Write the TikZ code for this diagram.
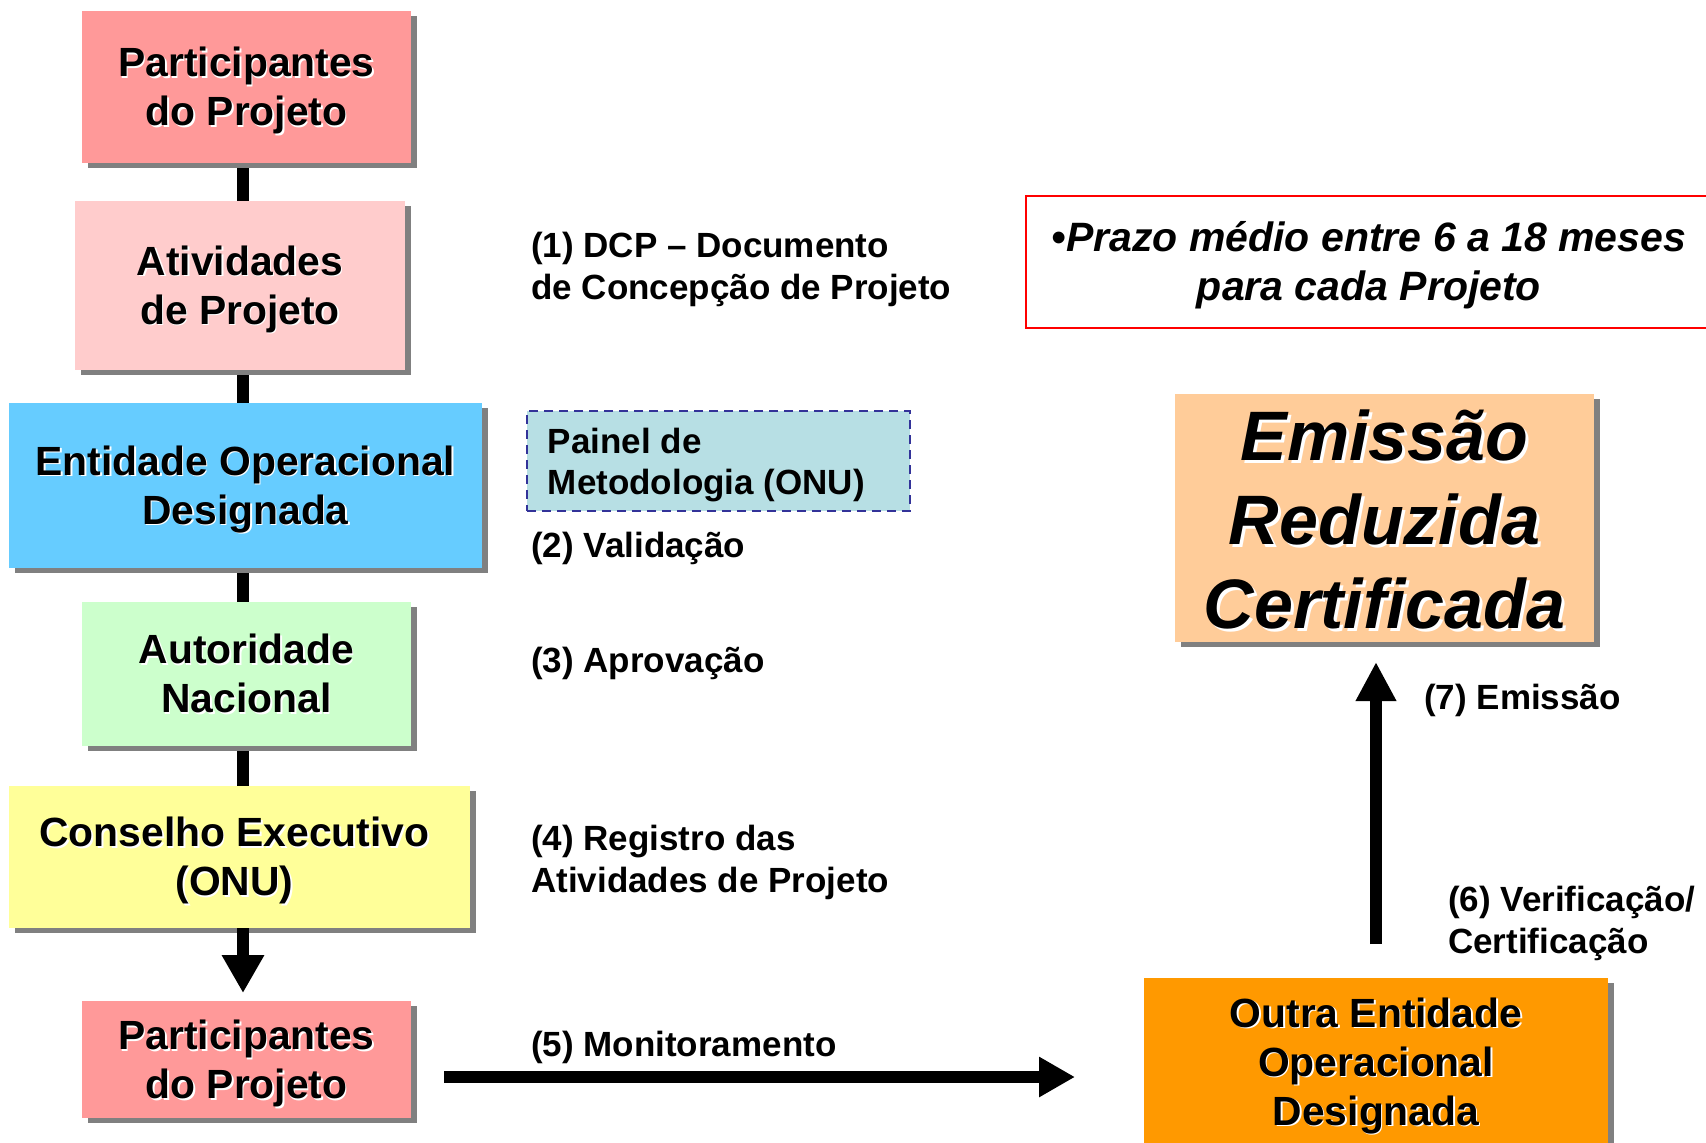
\documentclass[tikz,border=0pt]{standalone}
\usepackage{fontspec}
\setmainfont{Liberation Sans}
\usetikzlibrary{arrows.meta,shadows,backgrounds}
\definecolor{pinkA}{HTML}{FF9999}
\definecolor{pinkB}{HTML}{FFCCCC}
\definecolor{skyA}{HTML}{66CCFF}
\definecolor{greenA}{HTML}{CCFFCC}
\definecolor{yellowA}{HTML}{FFFF99}
\definecolor{peachA}{HTML}{FFCC99}
\definecolor{orangeA}{HTML}{FF9900}
\definecolor{panelA}{HTML}{B7DFE4}
\definecolor{navyA}{HTML}{333399}
\definecolor{shadowgray}{HTML}{808080}
\newcommand\wsh[2][1.5pt]{\leavevmode\rlap{\kern#1\raisebox{-#1}{\textcolor{white}{#2}}}#2}
\begin{document}
\begin{tikzpicture}[x=1pt,y=-1pt,
  box/.style={draw=none, outer sep=0pt, inner sep=0pt,
    drop shadow={shadow xshift=6pt, shadow yshift=-5pt, fill=shadowgray, opacity=1}},
  btxt/.style={inner sep=0pt, align=center, font=\bfseries\fontsize{40.8}{49}\selectfont},
  lbl/.style={inner sep=0pt, anchor=west, align=left, font=\bfseries\fontsize{35}{42}\selectfont},
  bar/.style={line width=12pt},
  bigarrow/.style={line width=12pt, -{Triangle[width=40pt,length=38pt]}}]
\useasboundingbox (0,0) rectangle (1706,1143);
\clip (0,0) rectangle (1706,1143);
\coordinate (bx) at (243,0);

% left column boxes
\node[box, fill=pinkA, minimum width=329pt, minimum height=152pt] (b1) at (246.5,87) {};
\node[btxt] (t1) at ([yshift=-4.5pt]b1.center) {\wsh{Participantes}\\\wsh{do Projeto}};
\node[box, fill=pinkB, minimum width=330pt, minimum height=169pt] (b2) at (240,285.5) {};
\node[btxt] (t2) at ([yshift=-4.5pt]b2.center) {\wsh{Atividades}\\\wsh{de Projeto}};
\node[box, fill=skyA, minimum width=473pt, minimum height=165pt] (b3) at (245.5,485.5) {};
\node[btxt] (t3) at ([yshift=-4.5pt]b3.center) {\wsh{Entidade Operacional}\\\wsh{Designada}};
\node[box, fill=greenA, minimum width=329pt, minimum height=144pt] (b4) at (246.5,674) {};
\node[btxt] (t4) at ([yshift=-0.5pt]b4.center) {\wsh{Autoridade}\\\wsh{Nacional}};
\node[box, fill=yellowA, minimum width=461pt, minimum height=142pt] (b5) at (239.5,857) {};
\node[btxt] (t5) at ([xshift=-5pt,yshift=-4.5pt]b5.center) {\wsh{Conselho Executivo}\\\wsh{(ONU)}};
\node[box, fill=pinkA, minimum width=329pt, minimum height=117pt] (b6) at (246.5,1059.5) {};
\node[btxt] (t6) at ([yshift=-5pt]b6.center) {\wsh{Participantes}\\\wsh{do Projeto}};

% panel
\node[draw=navyA, dash pattern=on 9pt off 6pt, line width=2.5pt, fill=panelA,
  minimum width=383pt, minimum height=100pt, inner sep=0pt] (pan) at (718.5,461) {};
\node[lbl, font=\bfseries\fontsize{35}{41}\selectfont] (pant) at ([xshift=22pt,yshift=-4pt]pan.west) {Painel de\\Metodologia (ONU)};

% red note box
\node[draw=red, line width=2pt, minimum width=686pt, minimum height=132pt, inner sep=0pt] (red) at (1369,262) {};
\node[inner sep=0pt, align=center, font=\bfseries\itshape\fontsize{41}{49}\selectfont] (redt) at ([yshift=-3.5pt]red.center) {•Prazo médio entre 6 a 18 meses\\para cada Projeto};

% right boxes
\node[box, fill=peachA, minimum width=419pt, minimum height=248pt] (em) at (1384.5,518) {};
\node[btxt, font=\bfseries\itshape\fontsize{70}{84}\selectfont] (emt) at ([yshift=-3pt]em.center) {\wsh[3pt]{Emissão}\\\wsh[3pt]{Reduzida}\\\wsh[3pt]{Certificada}};

\node[box, fill=orangeA, minimum width=464pt, minimum height=172pt] (outra) at (1376,1064) {};
\node[btxt] (outrat) at ([yshift=-2.5pt]outra.center) {\wsh{Outra Entidade}\\\wsh{Operacional}\\\wsh{Designada}};

% labels
\node[lbl] (l1) at (531,269.5) {(1) DCP – Documento\\de Concepção de Projeto};
\node[lbl] (l2) at (531,548.5) {(2) Validação};
\node[lbl] (l3) at (531,663.5) {(3) Aprovação};
\node[lbl] (l4) at (531,862) {(4) Registro das\\Atividades de Projeto};
\node[lbl] (l5) at (531,1047.5) {(5) Monitoramento};
\node[lbl] (l7) at (1424,700.5) {(7) Emissão};
\node[lbl] (l6) at (1448,923.5) {(6) Verificação/\\Certificação};

% connectors
\begin{scope}[on background layer]
  \fill[white] (0,0) rectangle (1706,1143);
  \draw[bar] (b1.south -| bx) -- (b2.north -| bx);
  \draw[bar] (b2.south -| bx) -- (b3.north -| bx);
  \draw[bar] (b3.south -| bx) -- (b4.north -| bx);
  \draw[bar] (b4.south -| bx) -- (b5.north -| bx);
\end{scope}
\draw[bigarrow, shorten >=8pt] (b5.south -| bx) -- (b6.north -| bx);
\coordinate (ms) at ([xshift=33pt,yshift=-17.5pt]b6.east);
\coordinate (me) at (ms -| outra.west);
\draw[bigarrow, -{Triangle[width=38pt,length=36pt]}, shorten >=69pt] (ms) -- (me);
\draw[bigarrow, -{Triangle[width=38pt,length=39pt]}, shorten <=34pt, shorten >=20pt] (outra.north) -- (outra.north |- em.south);
\end{tikzpicture}
\end{document}
